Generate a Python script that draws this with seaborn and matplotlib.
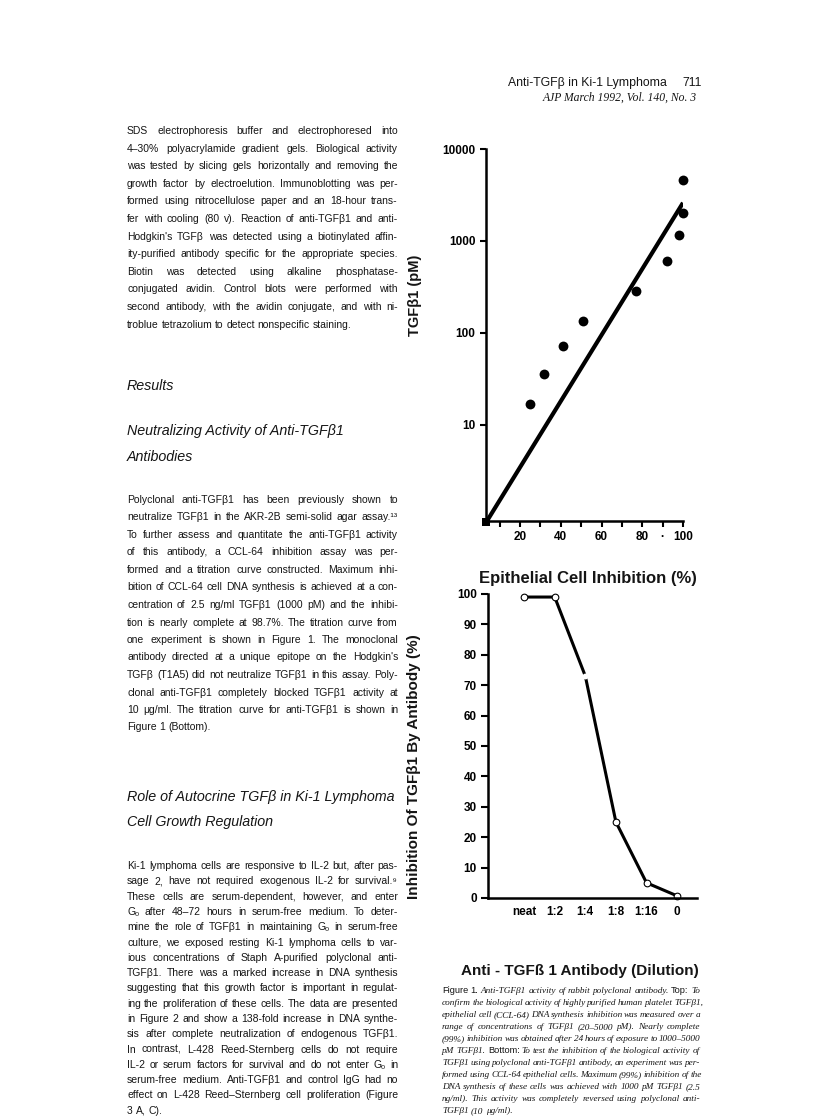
import matplotlib
matplotlib.use("Agg")
import matplotlib.pyplot as plt
import seaborn as sns

# top panel: TGFb1 dose vs epithelial cell inhibition
inhib_pct = [25, 32, 41, 51, 77, 92, 98, 100, 100]
tgf_pm = [17, 36, 72, 135, 285, 600, 1150, 2000, 4600]
fit_pct = [3.5, 100]
fit_pm = [0.88, 2600]
top_yticks = [10, 100, 1000, 10000]
top_xticks = [10, 20, 30, 40, 50, 60, 70, 80, 90, 100]
top_xlabels = ["", "20", "", "40", "", "60", "", "80", "·", "100"]

# bottom panel: antibody titration
dilutions = ["neat", "1:2", "1:4", "1:8", "1:16", "0"]
ab_inhib = [99, 99, 73, 25, 5, 0.7]

# page text
header = "Anti-TGFβ in Ki-1 Lymphoma"
page_no = "711"
journal = "AJP March 1992, Vol. 140, No. 3"

para1 = [
    "SDS electrophoresis buffer and electrophoresed into",
    "4–30% polyacrylamide gradient gels. Biological activity",
    "was tested by slicing gels horizontally and removing the",
    "growth factor by electroelution. Immunoblotting was per-",
    "formed using nitrocellulose paper and an 18-hour trans-",
    "fer with cooling (80 v). Reaction of anti-TGFβ1 and anti-",
    "Hodgkin's TGFβ was detected using a biotinylated affin-",
    "ity-purified antibody specific for the appropriate species.",
    "Biotin was detected using alkaline phosphatase-",
    "conjugated avidin. Control blots were performed with",
    "second antibody, with the avidin conjugate, and with ni-",
    "troblue tetrazolium to detect nonspecific staining.",
]
para2 = [
    "Polyclonal anti-TGFβ1 has been previously shown to",
    "neutralize TGFβ1 in the AKR-2B semi-solid agar assay.¹³",
    "To further assess and quantitate the anti-TGFβ1 activity",
    "of this antibody, a CCL-64 inhibition assay was per-",
    "formed and a titration curve constructed. Maximum inhi-",
    "bition of CCL-64 cell DNA synthesis is achieved at a con-",
    "centration of 2.5 ng/ml TGFβ1 (1000 pM) and the inhibi-",
    "tion is nearly complete at 98.7%. The titration curve from",
    "one experiment is shown in Figure 1. The monoclonal",
    "antibody directed at a unique epitope on the Hodgkin's",
    "TGFβ (T1A5) did not neutralize TGFβ1 in this assay. Poly-",
    "clonal anti-TGFβ1 completely blocked TGFβ1 activity at",
    "10 μg/ml. The titration curve for anti-TGFβ1 is shown in",
    "Figure 1 (Bottom).",
]
para3 = [
    "Ki-1 lymphoma cells are responsive to IL-2 but, after pas-",
    "sage 2, have not required exogenous IL-2 for survival.⁹",
    "These cells are serum-dependent, however, and enter",
    "Gₒ after 48–72 hours in serum-free medium. To deter-",
    "mine the role of TGFβ1 in maintaining Gₒ in serum-free",
    "culture, we exposed resting Ki-1 lymphoma cells to var-",
    "ious concentrations of Staph A-purified polyclonal anti-",
    "TGFβ1. There was a marked increase in DNA synthesis",
    "suggesting that this growth factor is important in regulat-",
    "ing the proliferation of these cells. The data are presented",
    "in Figure 2 and show a 138-fold increase in DNA synthe-",
    "sis after complete neutralization of endogenous TGFβ1.",
    "In contrast, L-428 Reed-Sternberg cells do not require",
    "IL-2 or serum factors for survival and do not enter Gₒ in",
    "serum-free medium. Anti-TGFβ1 and control IgG had no",
    "effect on L-428 Reed–Sternberg cell proliferation (Figure",
    "3 A, C).",
]
caption = [
    "§Figure §1. Anti-TGFβ1 activity of rabbit polyclonal antibody. §Top: To",
    "confirm the biological activity of highly purified human platelet TGFβ1,",
    "epithelial cell (CCL-64) DNA synthesis inhibition was measured over a",
    "range of concentrations of TGFβ1 (20–5000 pM). Nearly complete",
    "(99%) inhibition was obtained after 24 hours of exposure to 1000–5000",
    "pM TGFβ1. §Bottom: To test the inhibition of the biological activity of",
    "TGFβ1 using polyclonal anti-TGFβ1 antibody, an experiment was per-",
    "formed using CCL-64 epithelial cells. Maximum (99%) inhibition of the",
    "DNA synthesis of these cells was achieved with 1000 pM TGFβ1 (2.5",
    "ng/ml). This activity was completely reversed using polyclonal anti-",
    "TGFβ1 (10 μg/ml).",
]

W, H = 816, 1117
SANS = ["Liberation Sans", "DejaVu Sans"]
SERIF = ["Liberation Serif", "DejaVu Serif"]
INK = "#151515"

sns.set_theme(style="ticks")
plt.rcParams["font.family"] = SANS


def fx(x):
    return x / W


def fy(y):
    return 1 - y / H


fig = plt.figure(figsize=(W / 100, H / 100), dpi=100)
fig.patch.set_facecolor("white")
renderer = fig.canvas.get_renderer()


def text_line(line, x0, x1, y, size, justify, style="normal", family=SANS):
    # one typeset line, spread out between x0 and x1 when justified
    objs = []
    for w in line.split(" "):
        if w.startswith("§"):
            t = fig.text(0, fy(y), w[1:], fontsize=size, family=SANS,
                         color=INK, va="baseline")
        else:
            t = fig.text(0, fy(y), w, fontsize=size, style=style, family=family,
                         color=INK, va="baseline")
        objs.append(t)
    widths = [t.get_window_extent(renderer).width for t in objs]
    space = size * 100 / 72 * 0.27
    if justify and len(objs) > 1:
        gap = max((x1 - x0 - sum(widths)) / (len(objs) - 1), 1.5)
    else:
        gap = space
    x = x0
    for t, w in zip(objs, widths):
        t.set_x(fx(x))
        x += w + gap


def paragraph(lines, x0, x1, y0, lead, size, **kw):
    for i, line in enumerate(lines):
        text_line(line, x0, x1, y0 + i * lead, size, i < len(lines) - 1, **kw)


# ---- running head
fig.text(fx(508), fy(86), header, fontsize=8.8, color=INK, va="baseline")
fig.text(fx(682), fy(86), page_no, fontsize=8.8, color=INK, va="baseline")
fig.text(fx(697), fy(101), journal, fontsize=8.4, style="italic", family=SERIF,
         color=INK, va="baseline", ha="right")

# ---- left column
LX0, LX1, BODY, HEAD = 127, 398, 7.5, 10.3
paragraph(para1, LX0, LX1, 134, 17.6, BODY)
fig.text(fx(LX0), fy(390), "Results", fontsize=HEAD, style="italic", color=INK,
         va="baseline")
fig.text(fx(LX0), fy(435), "Neutralizing Activity of Anti-TGFβ1", fontsize=HEAD,
         style="italic", color=INK, va="baseline")
fig.text(fx(LX0), fy(461), "Antibodies", fontsize=HEAD, style="italic", color=INK,
         va="baseline")
paragraph(para2, LX0, LX1, 503, 17.5, BODY)
fig.text(fx(LX0), fy(801), "Role of Autocrine TGFβ in Ki-1 Lymphoma", fontsize=HEAD,
         style="italic", color=INK, va="baseline")
fig.text(fx(LX0), fy(826), "Cell Growth Regulation", fontsize=HEAD, style="italic",
         color=INK, va="baseline")
paragraph(para3, LX0, LX1, 869, 15.3, BODY)

# ---- caption
paragraph(caption, 442, 700, 993, 12, 6.7, style="italic", family=SERIF)

# ---- top chart
ax1 = fig.add_axes([fx(486), fy(521), (683 - 486) / W, (521 - 149) / H])
sns.lineplot(x=fit_pct, y=fit_pm, ax=ax1, color="black", linewidth=3,
             solid_capstyle="butt")
sns.scatterplot(x=fit_pct[:1], y=fit_pm[:1], ax=ax1, marker="s", s=30,
                color="black", linewidth=0, clip_on=False)
sns.scatterplot(x=inhib_pct, y=tgf_pm, ax=ax1, s=50, color="black",
                linewidth=0, clip_on=False, zorder=4)
ax1.set_yscale("log")
ax1.set_xlim(3.3, 100)
ax1.set_ylim(0.9, 10000)
ax1.set_yticks(top_yticks)
ax1.set_yticklabels([str(v) for v in top_yticks])
ax1.minorticks_off()
ax1.set_xticks(top_xticks)
ax1.set_xticklabels(top_xlabels)
ax1.set_xlabel("")
ax1.set_ylabel("")

# ---- bottom chart
ax2 = fig.add_axes([fx(488), fy(898), (697 - 488) / W, (898 - 594) / H])
pos = list(range(len(dilutions)))
sns.lineplot(x=pos, y=ab_inhib, ax=ax2, color="black", linewidth=2.2,
             marker="o", markersize=4.8, markerfacecolor="white",
             markeredgecolor="black", markeredgewidth=0.8,
             markevery=[0, 1, 3, 4, 5], clip_on=False)
sns.scatterplot(x=pos[2:3], y=ab_inhib[2:3], ax=ax2, s=18, color="white",
                linewidth=0, zorder=5)
ax2.set_xlim(-1.18, 5.65)
ax2.set_ylim(0, 100)
ax2.set_yticks(range(0, 101, 10))
ax2.set_xticks(pos)
ax2.set_xticklabels(dilutions)
ax2.set_xlabel("")
ax2.set_ylabel("")

for ax in (ax1, ax2):
    sns.despine(ax=ax)
    ax.set_facecolor("white")
    for s in ("left", "bottom"):
        ax.spines[s].set_linewidth(1.8)
        ax.spines[s].set_color("black")
    ax.tick_params(axis="both", direction="out", length=4.5, width=1.5,
                   colors="black", labelsize=8.5, pad=3)
    for lab in ax.get_xticklabels() + ax.get_yticklabels():
        lab.set_fontweight("bold")
ax2.tick_params(axis="x", length=0, pad=6)
ax2.tick_params(axis="y", length=5)

# axis titles placed as on the page
fig.text(fx(588), fy(578), "Epithelial Cell Inhibition (%)", fontsize=12,
         fontweight="bold", ha="center", va="center", color=INK)
fig.text(fx(415), fy(295), "TGFβ1 (pM)", fontsize=10.5, fontweight="bold",
         rotation=90, ha="center", va="center", color=INK)
fig.text(fx(414), fy(767), "Inhibition Of TGFβ1 By Antibody (%)", fontsize=11,
         fontweight="bold", rotation=90, ha="center", va="center", color=INK)
fig.text(fx(580), fy(971), "Anti - TGFß 1 Antibody (Dilution)", fontsize=11,
         fontweight="bold", ha="center", va="center", color=INK)

fig.savefig("out.png", dpi=100, facecolor="white")
